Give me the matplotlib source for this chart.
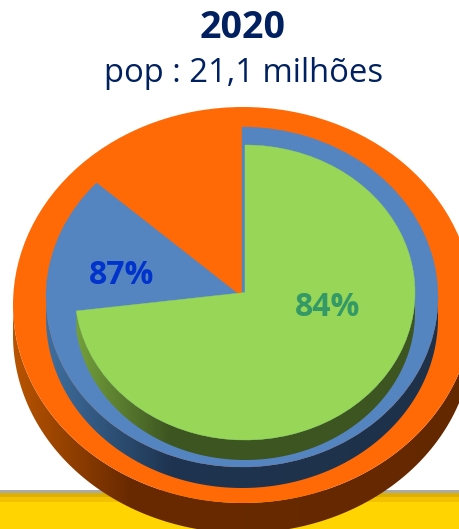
import matplotlib
matplotlib.use("Agg")
import matplotlib.pyplot as plt
import numpy as np
from matplotlib.colors import LinearSegmentedColormap
from matplotlib.patches import Ellipse, PathPatch, Rectangle, Wedge
from matplotlib.path import Path
from matplotlib.transforms import Affine2D

title = "2020"
subtitle = "pop : 21,1 milhões"
labels = ["87%", "84%"]

# share of the full disc drawn by each sector, clockwise from 12 o'clock
blue_share = 86.7
green_share = 73

W, H = 460, 529
fig = plt.figure(figsize=(W / 100, H / 100), dpi=100)
ax = fig.add_axes([0, 0, 1, 1])
ax.set_xlim(0, W)
ax.set_ylim(H, 0)
ax.axis("off")

# yellow band at the bottom
ax.add_patch(Rectangle((0, 490), W, 3, color="#ABABA5", lw=0, zorder=1))
ax.add_patch(Rectangle((0, 493), W, 4, color="#DDB000", lw=0, zorder=1))
ax.add_patch(Rectangle((0, 497), W, 5, color="#F2C200", lw=0, zorder=1))
ax.add_patch(Rectangle((0, 502), W, 27, color="#FFD400", lw=0, zorder=1))


def wall(cx, cy, rx, ry, depth, start, stop, colors, z):
    # side of the disc: lower arc, pushed down by depth, filled with a left-right gradient
    t = np.radians(np.linspace(start, stop, 200))
    x = cx + rx * np.cos(t)
    y = cy - ry * np.sin(t)
    pts = np.vstack([np.c_[x, y], np.c_[x[::-1], y[::-1] + depth], [[x[0], y[0]]]])
    clip = PathPatch(Path(pts, closed=True), transform=ax.transData, fc="none", ec="none")
    ax.add_patch(clip)
    cmap = LinearSegmentedColormap.from_list("w", colors)
    grad = np.linspace(0, 1, 256).reshape(1, -1)
    im = ax.imshow(grad, cmap=cmap, aspect="auto", zorder=z,
                   extent=[cx - rx, cx + rx, pts[:, 1].max(), pts[:, 1].min()])
    im.set_clip_path(clip)


def top(cx, cy, rx, ry, a1, a2, color, z):
    tr = Affine2D().scale(rx, -ry).translate(cx, cy) + ax.transData
    ax.add_patch(Wedge((0, 0), 1, a1, a2, transform=tr, fc=color, ec=color, lw=0.3, zorder=z))


orange = (243, 305, 230, 198)
blue = (242, 297, 196, 170)
green = (245, 292.5, 170, 147.5)

# orange disc
wall(*orange, 30, 180, 360, [(0, "#B85400"), (0.25, "#6A2A00"), (1, "#642800")], 2)
ax.add_patch(Ellipse(orange[:2], 2 * orange[2], 2 * orange[3], fc="#FF6A07", ec="none", zorder=3))

# blue sector
blue_start = 90 - blue_share * 3.6
wall(*blue, 21, 180, 360, [(0, "#3F6F9F"), (0.32, "#1E3450"), (1, "#1E3149")], 4)
top(*blue, blue_start, 90, "#5585C0", 5)

# green sector
green_start = 90 - green_share * 3.6
wall(*green, 20, green_start, 0, [(0, "#74A03C"), (0.28, "#3D5521"), (1, "#3D5521")], 6)
top(*green, green_start, 90, "#97D656", 7)

ax.set_xlim(0, W)
ax.set_ylim(H, 0)

ax.text(243, 28, title, ha="center", va="center", fontsize=27, fontweight="bold",
        family="Open Sans", color="#002060", zorder=9)
ax.text(244, 74, subtitle, ha="center", va="center", fontsize=23.6,
        family="Open Sans", color="#002060", zorder=9)
ax.text(122, 275, labels[0], ha="center", va="center", fontsize=23, fontweight="bold",
        family="Open Sans", color="#0033CC", zorder=9)
ax.text(328, 307, labels[1], ha="center", va="center", fontsize=23, fontweight="bold",
        family="Open Sans", color="#339966", zorder=9)

fig.savefig("out.png", dpi=100)
